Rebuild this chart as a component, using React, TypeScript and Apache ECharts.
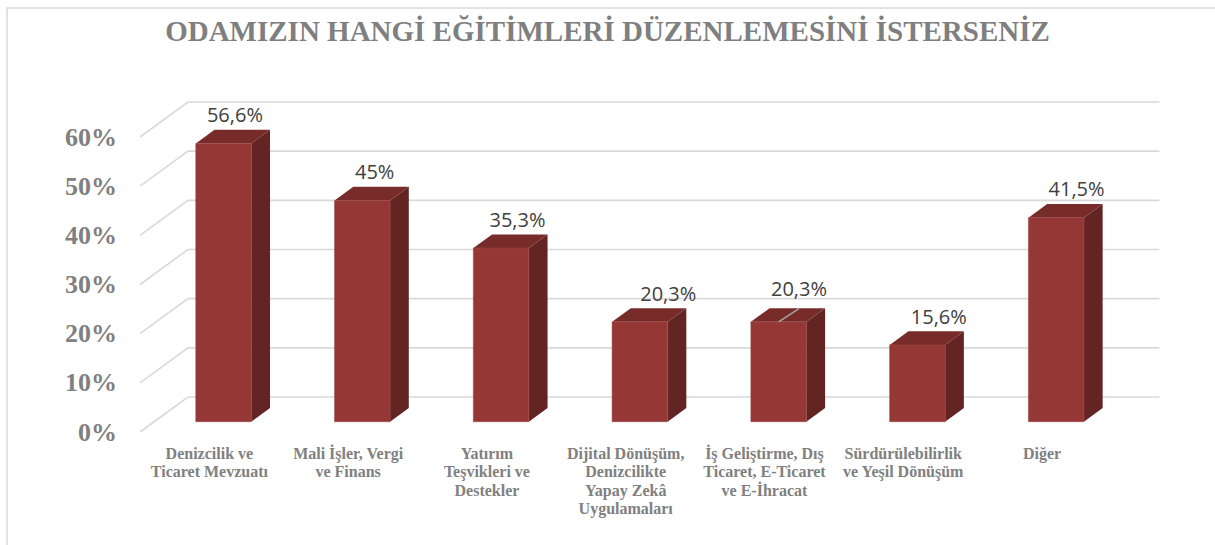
import React, { useEffect, useRef } from "react";
import * as echarts from "echarts";

const title = "ODAMIZIN HANGİ EĞİTİMLERİ DÜZENLEMESİNİ İSTERSENİZ";
const categories = [
  "Denizcilik ve\nTicaret Mevzuatı",
  "Mali İşler, Vergi\nve Finans",
  "Yatırım\nTeşvikleri ve\nDestekler",
  "Dijital Dönüşüm,\nDenizcilikte\nYapay Zekâ\nUygulamaları",
  "İş Geliştirme, Dış\nTicaret, E-Ticaret\nve E-İhracat",
  "Sürdürülebilirlik\nve Yeşil Dönüşüm",
  "Diğer",
];
const values = [56.6, 45, 35.3, 20.3, 20.3, 15.6, 41.5];
const yTicks = [0, 10, 20, 30, 40, 50, 60];

// perspective (floor depth) vector
const DX = 48;
const DY = -35;
const BAR_FRONT = 0.295; // bar front face depth fraction
const BAR_DEPTH = 0.39; // bar depth fraction
const BAR_WIDTH = 0.4; // fraction of band

// manual data-label nudges (as placed in the original), with leader line flag
const labelLayout = [
  { dx: 0, dy: 0, leader: false },
  { dx: 1, dy: 0, leader: false },
  { dx: 5, dy: 0, leader: false },
  { dx: 17, dy: 0, leader: false },
  { dx: 9, dy: -5, leader: true },
  { dx: 10, dy: 0, leader: false },
  { dx: 9, dy: 0, leader: false },
];

const fmt = (v: number) => String(v).replace(".", ",") + "%";

export default function App() {
  const ref = useRef<HTMLDivElement>(null);
  useEffect(() => {
    if (!ref.current) return;
    const chart = echarts.init(ref.current, null, { renderer: "svg" });
    chart.setOption({
      animation: false,
      backgroundColor: "#ffffff",
      title: {
        text: title,
        left: "center",
        top: 11,
        textStyle: {
          fontFamily: "Liberation Serif",
          fontWeight: "bold",
          fontSize: 29,
          color: "#7f7f7f",
        },
      },
      graphic: [
        {
          type: "rect",
          shape: { x: 7, y: 8, width: 1220, height: 550 },
          style: { fill: "none", stroke: "#d9d9d9", lineWidth: 1.5 },
          silent: true,
        },
      ],
      grid: { left: 140, right: 1215 - 140 - 971.4, top: 137, bottom: 545 - 432 },
      xAxis: {
        type: "category",
        data: categories,
        axisLine: { show: false },
        axisTick: { show: false },
        splitLine: { show: false },
        axisLabel: {
          interval: 0,
          margin: 12,
          fontFamily: "Liberation Serif",
          fontWeight: "bold",
          fontSize: 16,
          lineHeight: 18.5,
          color: "#808080",
        },
      },
      yAxis: {
        type: "value",
        min: 0,
        max: 60,
        interval: 10,
        axisLine: { show: false },
        axisTick: { show: false },
        splitLine: { show: false },
        axisLabel: {
          formatter: "{value}%",
          margin: 23,
          fontFamily: "Liberation Serif",
          fontWeight: "bold",
          fontSize: 26,
          color: "#808080",
        },
      },
      series: [
        {
          type: "custom",
          z: 1,
          silent: true,
          data: yTicks.map((v) => [0, v]),
          renderItem: (params: any, api: any) => {
            const y = api.coord([0, api.value(1)])[1];
            const cs = params.coordSys;
            return {
              type: "polyline",
              shape: {
                points: [
                  [cs.x, y],
                  [cs.x + DX, y + DY],
                  [cs.x + cs.width + DX, y + DY],
                ],
              },
              style: { stroke: "#d9d9d9", lineWidth: 1.6, fill: null },
            };
          },
        },
        {
          type: "custom",
          z: 2,
          data: values.map((v, i) => [i, v]),
          renderItem: (params: any, api: any) => {
            const i = api.value(0);
            const v = api.value(1);
            const base = api.coord([i, 0]);
            const top = api.coord([i, v]);
            const band = api.size([1, 0])[0];
            const w = band * BAR_WIDTH;
            const fx = base[0] + DX * BAR_FRONT - w / 2;
            const fy0 = base[1] + DY * BAR_FRONT;
            const fy1 = top[1] + DY * BAR_FRONT;
            const dx = DX * BAR_DEPTH;
            const dy = DY * BAR_DEPTH;
            const lay = labelLayout[i];
            const lx = fx + (w + dx) / 2 + 2 + lay.dx;
            const ly = fy1 + dy - 5 + lay.dy;
            const children: any[] = [
              {
                type: "polygon",
                shape: { points: [[fx + w, fy1], [fx + w + dx, fy1 + dy], [fx + w + dx, fy0 + dy], [fx + w, fy0]] },
                style: { fill: "#632523" },
              },
              {
                type: "polygon",
                shape: { points: [[fx, fy1], [fx + dx, fy1 + dy], [fx + w + dx, fy1 + dy], [fx + w, fy1]] },
                style: { fill: "#772c2a" },
              },
              {
                type: "rect",
                shape: { x: fx, y: fy1, width: w, height: fy0 - fy1 },
                style: { fill: "#953735", stroke: "#a04644", lineWidth: 0.6 },
              },
            ];
            if (lay.leader) {
              children.push({
                type: "line",
                shape: { x1: fx + w / 2, y1: fy1, x2: lx, y2: fy1 + dy + 0.5 },
                style: { stroke: "#a6a6a6", lineWidth: 1.5 },
              });
            }
            children.push({
              type: "text",
              x: lx,
              y: ly,
              style: {
                text: fmt(v),
                align: "center",
                verticalAlign: "bottom",
                fontFamily: "Open Sans",
                fontSize: 20,
                fill: "#404040",
              },
            });
            return { type: "group", children };
          },
        },
      ],
    });
    return () => chart.dispose();
  }, []);
  return (
    <div
      ref={ref}
      style={{ position: "absolute", left: 0, top: 0, width: 1215, height: 545 }}
    />
  );
}
